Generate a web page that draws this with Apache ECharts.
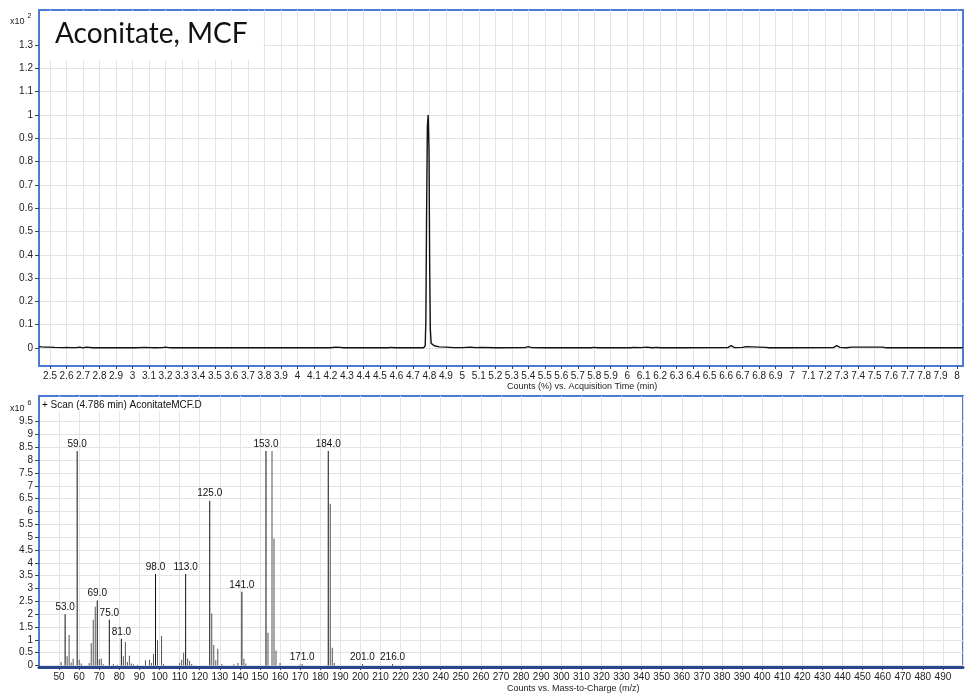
<!DOCTYPE html>
<html>
<head>
<meta charset="utf-8">
<script src="https://cdn.jsdelivr.net/npm/echarts@6/dist/echarts.min.js"></script>
<style>
html,body{margin:0;padding:0;background:#fff;}
#chart{width:965px;height:695px;}
</style>
</head>
<body>
<div id="chart"></div>
<script>
// ---- Chromatogram (top): time (min) and counts (x10^2 %) ----
const TIC_TIME = [2.433,2.45,2.47,2.49,2.53,2.58,2.60,2.62,2.66,2.68,2.70,2.72,2.73,2.76,2.90,2.98,3.02,3.08,3.11,3.13,3.18,3.20,3.22,3.24,4.20,4.23,4.26,4.28,4.55,4.57,4.59,4.765,4.775,4.779,4.783,4.788,4.793,4.798,4.802,4.806,4.811,4.817,4.83,4.84,4.86,4.90,4.95,5.00,5.05,5.08,5.12,5.20,5.38,5.40,5.42,5.50,5.78,5.80,5.82,5.85,5.88,6.02,6.04,6.08,6.12,6.15,6.18,6.20,6.30,6.61,6.63,6.65,6.70,6.72,6.76,6.80,6.84,6.86,6.93,6.94,6.96,7.25,7.27,7.29,7.31,7.33,7.36,7.45,7.55,7.57,8.036];
const TIC_VALUE = [0.006,0.005,0.004,0.004,0.003,0.002,0.003,0.002,0.002,0.004,0.001,0.004,0.002,0.001,0.001,0.002,0.001,0.003,0.002,0.001,0.002,0.004,0.002,0.001,0.001,0.004,0.003,0.001,0.001,0.003,0.001,0.001,0.010,0.12,0.55,0.95,1.0,0.85,0.35,0.08,0.02,0.012,0.010,0.008,0.005,0.004,0.002,0.002,0.004,0.002,0.003,0.001,0.002,0.006,0.002,0.001,0.001,0.003,0.001,0.002,0.001,0.001,0.003,0.002,0.004,0.001,0.003,0.001,0.001,0.002,0.010,0.002,0.003,0.006,0.005,0.004,0.003,0.001,0.001,0.000,0.001,0.002,0.010,0.003,0.002,0.001,0.004,0.004,0.004,0.001,0.001];
const TIME_TICKS = [2.5,2.6,2.7,2.8,2.9,3,3.1,3.2,3.3,3.4,3.5,3.6,3.7,3.8,3.9,4,4.1,4.2,4.3,4.4,4.5,4.6,4.7,4.8,4.9,5,5.1,5.2,5.3,5.4,5.5,5.6,5.7,5.8,5.9,6,6.1,6.2,6.3,6.4,6.5,6.6,6.7,6.8,6.9,7,7.1,7.2,7.3,7.4,7.5,7.6,7.7,7.8,7.9,8];
const TIC_Y_TICKS = [0,0.1,0.2,0.3,0.4,0.5,0.6,0.7,0.8,0.9,1,1.1,1.2,1.3];

// ---- Mass spectrum (bottom): m/z and counts (x10^6) ----
const MZ = [51,53,54,55,56,57,59,60,61,65,66,67,68,69,70,71,72,75,77,79,81,82,83,84,85,86,87,89,93,95,96,97,98,99,101,102,110,111,112,113,114,115,116,125,126,127,128,129,131,137,139,141,142,143,153,154,156,157,158,160,170,171,184,185,186,187,201,216];
const INTENSITY = [0.13,2.0,0.36,1.19,0.12,0.26,8.36,0.22,0.08,0.10,0.87,1.78,2.29,2.53,0.24,0.27,0.05,1.78,0.06,0.03,1.04,0.36,0.91,0.13,0.38,0.08,0.05,0.03,0.20,0.22,0.10,0.45,3.56,0.98,1.15,0.06,0.10,0.22,0.50,3.56,0.27,0.18,0.06,6.42,2.02,0.80,0.20,0.65,0.06,0.05,0.10,2.87,0.26,0.08,8.36,1.27,8.36,4.95,0.58,0.10,0.04,0.05,8.36,6.30,0.69,0.10,0.05,0.05];
const LABELED_MZ = [53,59,69,75,81,98,113,125,141,153,171,184,201,216];
const MS_Y_TICKS = [0,0.5,1,1.5,2,2.5,3,3.5,4,4.5,5,5.5,6,6.5,7,7.5,8,8.5,9,9.5];

const FONT = 'Liberation Sans';
const FRAME = '#4a7bd0';
const GRIDC = '#e4e4e4';

const chart = echarts.init(document.getElementById('chart'), null, {renderer:'canvas'});

const ticData = TIC_TIME.map((t,i)=>[t, TIC_VALUE[i]]);
const msData = MZ.map((m,i)=>{
  const lab = LABELED_MZ.indexOf(m) >= 0;
  return {
    value:[m, INTENSITY[i]],
    itemStyle:{color: lab ? '#111' : '#555'},
    label:{show: lab, position:'top', distance:2, formatter: m.toFixed(1), fontSize:10, color:'#111', fontFamily:FONT}
  };
});

const axisLabelStyle = {fontSize:10, color:'#222', fontFamily:FONT};

chart.setOption({
  animation:false,
  backgroundColor:'#fff',
  grid:[
    {left:39, top:10, right:2, height:356, show:true, borderColor:FRAME, borderWidth:2, backgroundColor:'#fff'},
    {left:39, top:396, right:2, height:271, show:true, borderColor:FRAME, borderWidth:2, backgroundColor:'#fff'}
  ],
  xAxis:[
    {gridIndex:0, type:'value', min:2.433, max:8.036,
     axisLine:{show:true, onZero:false, lineStyle:{color:FRAME, width:2}},
     axisTick:{show:true, customValues:TIME_TICKS, length:3, lineStyle:{color:'#444'}},
     axisLabel:Object.assign({customValues:TIME_TICKS, margin:5}, axisLabelStyle),
     splitLine:{show:true, lineStyle:{color:GRIDC, width:1}}},
    {gridIndex:1, type:'value', min:40, max:500, interval:10,
     axisLine:{show:true, onZero:false, lineStyle:{color:'#27488e', width:3}},
     axisTick:{show:true, length:3, lineStyle:{color:'#444'}},
     axisLabel:Object.assign({margin:5, showMinLabel:false, showMaxLabel:false}, axisLabelStyle),
     splitLine:{show:true, lineStyle:{color:GRIDC, width:1}}}
  ],
  yAxis:[
    {gridIndex:0, type:'value', min:-0.077, max:1.45,
     axisLine:{show:true, onZero:false, lineStyle:{color:FRAME, width:2}},
     axisTick:{show:true, customValues:TIC_Y_TICKS, length:4, lineStyle:{color:'#444'}},
     axisLabel:Object.assign({customValues:TIC_Y_TICKS, margin:6}, axisLabelStyle),
     splitLine:{show:true, lineStyle:{color:GRIDC, width:1}}},
    {gridIndex:1, type:'value', min:-0.06, max:10.5,
     axisLine:{show:true, onZero:false, lineStyle:{color:FRAME, width:2}},
     axisTick:{show:true, customValues:MS_Y_TICKS, length:4, lineStyle:{color:'#444'}},
     axisLabel:Object.assign({customValues:MS_Y_TICKS, margin:6}, axisLabelStyle),
     splitLine:{show:true, lineStyle:{color:GRIDC, width:1}}}
  ],
  series:[
    {type:'line', xAxisIndex:0, yAxisIndex:0, data:ticData, symbol:'none',
     lineStyle:{color:'#111', width:1.4}, clip:true, z:3},
    {type:'bar', xAxisIndex:1, yAxisIndex:1, data:msData, barWidth:1, barGap:'-100%', z:3}
  ],
  graphic:[
    {type:'rect', z:50, shape:{x:40, y:11, width:223, height:49}, style:{fill:'#fff'}},
    {type:'text', z:51, left:55, top:20, style:{text:'Aconitate, MCF', font:'28px Lato', fill:'#111'}},
    {type:'text', z:51, left:10, top:13, style:{text:'{a|x10}{b|2}', rich:{a:{fontSize:9, fontFamily:FONT, fill:'#222', verticalAlign:'bottom'}, b:{fontSize:7, fontFamily:FONT, fill:'#222', padding:[0,0,6,3]}}}},
    {type:'text', z:51, left:10, top:400, style:{text:'{a|x10}{b|6}', rich:{a:{fontSize:9, fontFamily:FONT, fill:'#222', verticalAlign:'bottom'}, b:{fontSize:7, fontFamily:FONT, fill:'#222', padding:[0,0,6,3]}}}},
    {type:'rect', z:50, shape:{x:41, y:398, width:145, height:13}, style:{fill:'#fff'}},
    {type:'text', z:51, left:42, top:400, style:{text:'+ Scan (4.786 min) AconitateMCF.D', font:'10px "Liberation Sans"', fill:'#111'}},
    {type:'text', z:51, left:507, top:382, style:{text:'Counts (%) vs. Acquisition Time (min)', font:'9px "Liberation Sans"', fill:'#222', textAlign:'center'}},
    {type:'text', z:51, left:507, top:684, style:{text:'Counts vs. Mass-to-Charge (m/z)', font:'9px "Liberation Sans"', fill:'#222', textAlign:'center'}}
  ]
});
</script>
</body>
</html>
